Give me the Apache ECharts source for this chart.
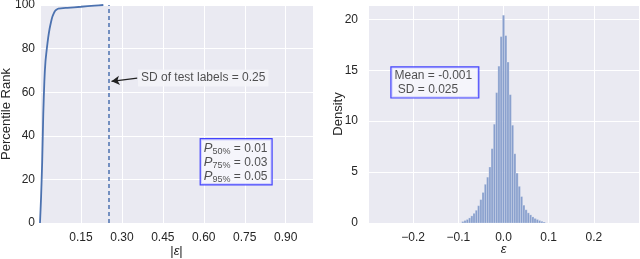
<!DOCTYPE html>
<html>
<head>
<meta charset="utf-8">
<script src="https://cdn.jsdelivr.net/npm/echarts@6/dist/echarts.min.js"></script>
<style>
html,body{margin:0;padding:0;background:#fff;}
#c{width:640px;height:259px;}
</style>
</head>
<body>
<div id="c"></div>
<script>
// ---- Left panel: percentile rank of |epsilon| ----
const cdfX = [0, 0.004, 0.008, 0.012, 0.016, 0.020, 0.025, 0.030, 0.035, 0.040, 0.045, 0.050, 0.055, 0.060, 0.067, 0.10, 0.15, 0.20, 0.232];
const cdfY = [0, 12, 28, 50, 65, 74, 80, 85, 89, 92, 94.5, 96, 97.2, 97.8, 98.3, 98.7, 99.2, 99.7, 100];
const leftXTickLabels = ['0.15', '0.30', '0.45', '0.60', '0.75', '0.90'];
const leftYTickLabels = ['0', '20', '40', '60', '80', '100'];
const sdTestLabels = 0.25;
const percentileNames = ['50%', '75%', '95%'];
const percentileValues = ['0.01', '0.03', '0.05'];

// ---- Right panel: histogram of epsilon ----
const histCenters = [-0.090, -0.085, -0.080, -0.075, -0.070, -0.065, -0.060, -0.055, -0.050, -0.045,
  -0.040, -0.035, -0.030, -0.025, -0.020, -0.015, -0.010, -0.005, 0.000, 0.005,
  0.010, 0.015, 0.020, 0.025, 0.030, 0.035, 0.040, 0.045, 0.050, 0.055,
  0.060, 0.065, 0.070, 0.075, 0.080, 0.085, 0.090];
const histDensity = [0.15, 0.25, 0.35, 0.5, 0.7, 0.95, 1.25, 1.7, 2.3, 3.0,
  3.8, 4.5, 5.5, 7.3, 9.7, 12.8, 15.4, 18.3, 20.4, 18.4,
  15.8, 12.6, 9.6, 6.8, 4.9, 3.6, 2.6, 1.75, 1.3, 1.0,
  0.8, 0.6, 0.45, 0.35, 0.25, 0.17, 0.1];
const histBinWidth = 0.005;
const rightXTickLabels = ['\u22120.2', '\u22120.1', '0.0', '0.1', '0.2'];
const rightYTickLabels = ['0', '5', '10', '15', '20'];
const statsText = ['Mean = -0.001', ' SD = 0.025'];

const FONT = 'Liberation Sans, Arial, sans-serif';
const TXT = '#262626';
const BG = '#eaeaf2';
const BLUE = '#4c72b0';

function fmtFrom(list, decimals) {
  return function (v) {
    const s = (Math.abs(v) < 1e-9 ? 0 : v).toFixed(decimals).replace('-', '\u2212');
    return list.indexOf(s) >= 0 ? s : '';
  };
}

const chart = echarts.init(document.getElementById('c'), null, {renderer: 'canvas'});

const axisCommon = {
  axisLine: {show: false},
  axisTick: {show: false},
  nameMoveOverlap: false,
  splitLine: {show: true, lineStyle: {color: '#ffffff', width: 1}},
  axisLabel: {color: TXT, fontSize: 12, fontFamily: FONT},
  nameTextStyle: {color: TXT, fontSize: 13, fontFamily: FONT}
};

chart.setOption({
  animation: false,
  textStyle: {fontFamily: FONT},
  grid: [
    {left: 40, top: 5, width: 273, height: 218, show: true, backgroundColor: BG, borderWidth: 0, containLabel: false, outerBoundsMode: 'none'},
    {left: 368, top: 5, width: 271, height: 218, show: true, backgroundColor: BG, borderWidth: 0, containLabel: false, outerBoundsMode: 'none'}
  ],
  xAxis: [
    Object.assign({}, axisCommon, {
      gridIndex: 0, type: 'value', min: 0, max: 1.0, interval: 0.15,
      name: '|{i|\u03b5}|', nameLocation: 'middle', nameGap: 22,
      nameTextStyle: Object.assign({}, axisCommon.nameTextStyle, {rich: {i: {fontStyle: 'italic', fontSize: 13, fontFamily: FONT, color: TXT}}}),
      axisLabel: Object.assign({}, axisCommon.axisLabel, {margin: 9, formatter: fmtFrom(leftXTickLabels, 2)})
    }),
    Object.assign({}, axisCommon, {
      gridIndex: 1, type: 'value', min: -0.3, max: 0.3, interval: 0.1,
      name: '\u03b5', nameLocation: 'middle', nameGap: 20,
      nameTextStyle: Object.assign({}, axisCommon.nameTextStyle, {fontStyle: 'italic'}),
      axisLabel: Object.assign({}, axisCommon.axisLabel, {margin: 9, formatter: fmtFrom(rightXTickLabels, 1)})
    })
  ],
  yAxis: [
    Object.assign({}, axisCommon, {
      gridIndex: 0, type: 'value', min: 0, max: 100, interval: 20,
      name: 'Percentile Rank', nameLocation: 'middle', nameGap: 27,
      axisLabel: Object.assign({}, axisCommon.axisLabel, {margin: 5, formatter: fmtFrom(leftYTickLabels, 0)})
    }),
    Object.assign({}, axisCommon, {
      gridIndex: 1, type: 'value', min: 0, max: 21.4, interval: 5,
      name: 'Density', nameLocation: 'middle', nameGap: 23,
      axisLabel: Object.assign({}, axisCommon.axisLabel, {margin: 10, formatter: fmtFrom(rightYTickLabels, 0)})
    })
  ],
  series: [
    {
      type: 'line', xAxisIndex: 0, yAxisIndex: 0,
      data: cdfX.map((x, i) => [x, cdfY[i]]),
      showSymbol: false, smooth: 0.2,
      lineStyle: {color: BLUE, width: 1.8},
      markLine: {
        silent: true, symbol: ['none', 'none'],
        label: {show: false},
        lineStyle: {color: BLUE, width: 1.5, type: [4, 3]},
        data: [{xAxis: sdTestLabels}]
      },
      z: 3
    },
    {
      type: 'scatter', xAxisIndex: 0, yAxisIndex: 0, symbolSize: 0,
      data: [[0.359, 66.5]],
      label: {
        show: true, position: 'right', distance: 0,
        formatter: 'SD of test labels = ' + sdTestLabels.toFixed(2),
        color: TXT, fontSize: 12, fontFamily: FONT,
        backgroundColor: '#f5f5f9', padding: [3, 3, 2, 3]
      },
      markLine: {
        silent: true, symbol: ['none', 'arrow'], symbolSize: [7, 8],
        label: {show: false},
        lineStyle: {color: '#222222', width: 1.2, type: 'solid'},
        data: [[{coord: [0.356, 66.5]}, {coord: [0.262, 65]}]]
      },
      z: 5
    },
    {
      type: 'scatter', xAxisIndex: 0, yAxisIndex: 0, symbolSize: 0,
      data: [[0.589, 28.1]],
      label: {
        show: true, position: 'right', distance: 0,
        formatter: percentileNames.map((n, i) => '{p|P}{s|' + n + '} = ' + percentileValues[i]).join('\n'),
        color: TXT, fontSize: 12, fontFamily: FONT, lineHeight: 14,
        backgroundColor: '#f8f8fc', borderColor: '#1a1aff', borderWidth: 1.2,
        padding: [2, 4, 1, 3],
        rich: {
          p: {fontStyle: 'italic', fontSize: 13, fontFamily: FONT, color: TXT, lineHeight: 14},
          s: {fontSize: 9, fontFamily: FONT, color: TXT, lineHeight: 14, padding: [6, 0, 0, 0]}
        }
      },
      z: 5
    },
    {
      type: 'custom', xAxisIndex: 1, yAxisIndex: 1,
      data: histCenters.map((c, i) => [c, histDensity[i]]),
      renderItem: function (params, api) {
        const c = api.value(0), h = api.value(1);
        const p0 = api.coord([c - histBinWidth / 2, h]);
        const p1 = api.coord([c + histBinWidth / 2, 0]);
        return {
          type: 'rect',
          shape: {x: p0[0], y: p0[1], width: p1[0] - p0[0], height: p1[1] - p0[1]},
          style: {fill: '#889fcd', stroke: 'rgba(255,255,255,0.45)', lineWidth: 0.5}
        };
      },
      z: 3
    },
    {
      type: 'scatter', xAxisIndex: 1, yAxisIndex: 1, symbolSize: 0,
      data: [[-0.248, 13.8]],
      label: {
        show: true, position: 'right', distance: 0,
        formatter: statsText.join('\n'),
        color: TXT, fontSize: 12, fontFamily: FONT, lineHeight: 14, align: 'left',
        backgroundColor: '#f8f8fc', borderColor: '#1a1aff', borderWidth: 1.2,
        padding: [1, 6, 1, 3]
      },
      z: 5
    }
  ]
});
</script>
</body>
</html>
